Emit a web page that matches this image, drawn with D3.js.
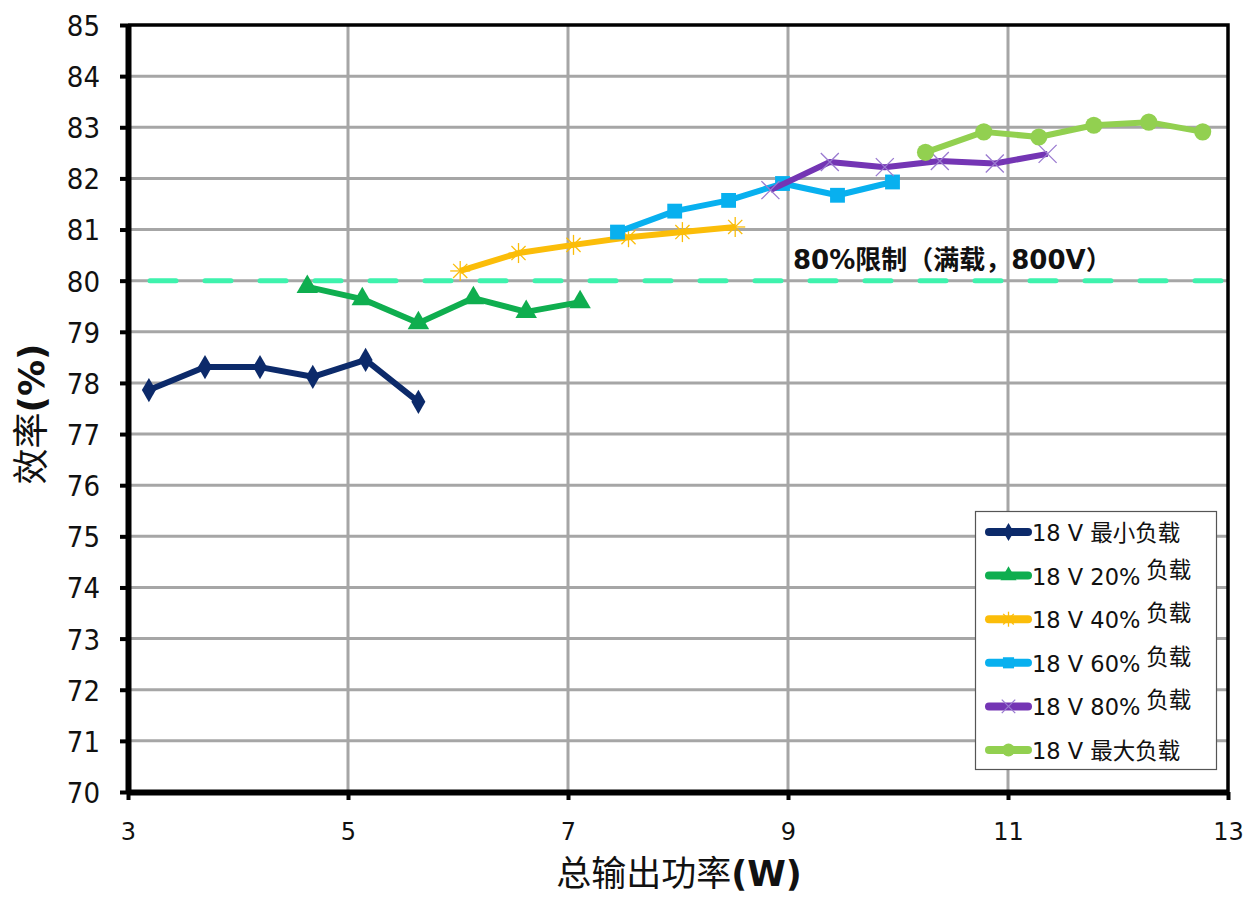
<!DOCTYPE html>
<html><head><meta charset="utf-8">
<script src="https://cdn.jsdelivr.net/npm/d3@7"></script>
<style>
html,body{margin:0;padding:0;background:#fff;}
svg{display:block;font-family:"DejaVu Sans","Noto Sans CJK SC",sans-serif;}
</style></head>
<body><svg id="c" width="1248" height="897"></svg>
<script>
// ---- data ----
const xTicks = [3, 5, 7, 9, 11, 13];
const yTicks = [70, 71, 72, 73, 74, 75, 76, 77, 78, 79, 80, 81, 82, 83, 84, 85];
const seriesNames = ["18 V  最小负载", "18 V 20%", "18 V 40%", "18 V 60%", "18 V 80%", "18 V 最大负载"];
const seriesSuffix = ["", "负载", "负载", "负载", "负载", ""];
const minLoadX = [3.19, 3.70, 4.20, 4.68, 5.16, 5.64];
const minLoadY = [77.86, 78.31, 78.31, 78.12, 78.45, 77.63];
const load20X = [4.63, 5.13, 5.64, 6.14, 6.62, 7.11];
const load20Y = [79.88, 79.64, 79.17, 79.66, 79.39, 79.58];
const load40X = [6.02, 6.55, 7.05, 7.55, 8.04, 8.52];
const load40Y = [80.19, 80.54, 80.70, 80.85, 80.95, 81.05];
const load60X = [7.45, 7.97, 8.46, 8.95, 9.45, 9.95];
const load60Y = [80.95, 81.36, 81.57, 81.90, 81.67, 81.93];
const load80X = [8.84, 9.38, 9.88, 10.38, 10.88, 11.36];
const load80Y = [81.77, 82.32, 82.22, 82.34, 82.29, 82.48];
const maxLoadX = [10.25, 10.78, 11.28, 11.78, 12.28, 12.77];
const maxLoadY = [82.51, 82.91, 82.81, 83.04, 83.10, 82.91];
const limitValue = 80;
const limitLabel = "80%限制（满载，800V）";
const xLabel = "总输出功率";
const xLabelUnit = "(W)";
const yLabel = "效率";
const yLabelUnit = "(%)";

const colors = ["#0c2a6a", "#0fae4f", "#fbbd09", "#08b0ef", "#7435b4", "#92d050"];
const markers = ["diamond", "triangle", "star", "square", "cross", "circle"];
const seriesX = [minLoadX, load20X, load40X, load60X, load80X, maxLoadX];
const seriesY = [minLoadY, load20Y, load40Y, load60Y, load80Y, maxLoadY];

// ---- layout ----
const L = 128, R = 1228, T = 25, B = 792;
const svg = d3.select("#c");
const x = d3.scaleLinear().domain([3, 13]).range([L, R]);
const y = d3.scaleLinear().domain([70, 85]).range([B, T]);

// grid
svg.append("g").selectAll("line").data(yTicks.filter(v => v > 70 && v < 85)).join("line")
  .attr("x1", L).attr("x2", R).attr("y1", d => y(d)).attr("y2", d => y(d))
  .attr("stroke", "#a6a6a6").attr("stroke-width", 3);
svg.append("g").selectAll("line").data(xTicks.filter(v => v > 3 && v < 13)).join("line")
  .attr("y1", T).attr("y2", B).attr("x1", d => x(d)).attr("x2", d => x(d))
  .attr("stroke", "#a6a6a6").attr("stroke-width", 3);

// top/right frame
svg.append("path").attr("d", `M${L},${T}H${R}V${B}`).attr("fill", "none")
  .attr("stroke", "#000").attr("stroke-width", 3.5);

// axes
const yAxis = svg.append("g").attr("transform", `translate(${L},0)`)
  .call(d3.axisLeft(y).tickValues(yTicks).tickSize(8).tickSizeOuter(0).tickPadding(20));
const xAxis = svg.append("g").attr("transform", `translate(0,${B})`)
  .call(d3.axisBottom(x).tickValues(xTicks).tickSize(8).tickSizeOuter(0).tickPadding(23));
[yAxis, xAxis].forEach(g => {
  g.select(".domain").attr("stroke", "#000").attr("stroke-width", 6);
  g.selectAll(".tick line").attr("stroke", "#000").attr("stroke-width", 4);
  g.selectAll(".tick text").attr("fill", "#111");
});
xAxis.selectAll(".tick text").style("font-size", "24px").style("font-family", "'DejaVu Sans',sans-serif");
yAxis.selectAll(".tick text").style("font-size", "29px")
  .style("font-family", "'DejaVu Sans Condensed','DejaVu Sans',sans-serif")
  .style("font-stretch", "condensed").attr("dy", "0.36em");

// limit line
svg.append("line").attr("x1", L + 22).attr("x2", R).attr("y1", y(limitValue)).attr("y2", y(limitValue))
  .attr("stroke", "#3ef2ad").attr("stroke-width", 5).attr("stroke-linecap", "round")
  .attr("stroke-dasharray", "26 29");
svg.append("text").attr("x", 793).attr("y", 269).text(limitLabel)
  .style("font-size", "26px").style("font-weight", "bold").attr("fill", "#111");

// marker drawing
function drawMarker(g, type, color, cx, cy, scale) {
  const s = scale || 1;
  if (type === "star") {
    const r = 10 * s;
    for (let i = 0; i < 4; i++) {
      const a = i * Math.PI / 4;
      g.append("line").attr("x1", cx - r * Math.cos(a)).attr("y1", cy - r * Math.sin(a))
        .attr("x2", cx + r * Math.cos(a)).attr("y2", cy + r * Math.sin(a))
        .attr("stroke", color).attr("stroke-width", 1.3);
    }
  } else if (type === "cross") {
    const r = 9 * s;
    g.append("path").attr("d", `M${cx - r},${cy - r}L${cx + r},${cy + r}M${cx - r},${cy + r}L${cx + r},${cy - r}`)
      .attr("stroke", "#9a7ad0").attr("stroke-width", 1.3).attr("fill", "none");
  } else {
    const sym = { diamond: d3.symbolDiamond, triangle: d3.symbolTriangle, square: d3.symbolSquare, circle: d3.symbolCircle }[type];
    const size = { diamond: 170, triangle: 200, square: 220, circle: 230 }[type] * s * s;
    g.append("path").attr("d", d3.symbol().type(sym).size(size)())
      .attr("transform", `translate(${cx},${cy})`).attr("fill", color);
  }
}

// series
const line = d3.line().x(d => x(d[0])).y(d => y(d[1]));
seriesX.forEach((xs, i) => {
  const pts = xs.map((v, j) => [v, seriesY[i][j]]);
  const g = svg.append("g");
  g.append("path").datum(pts).attr("d", line).attr("fill", "none")
    .attr("stroke", colors[i]).attr("stroke-width", 6).attr("stroke-linejoin", "round");
  pts.forEach(p => drawMarker(g, markers[i], colors[i], x(p[0]), y(p[1]), 1));
});

// legend
const lg = svg.append("g");
lg.append("rect").attr("x", 975.5).attr("y", 511.5).attr("width", 241).attr("height", 258)
  .attr("fill", "#fff").attr("stroke", "#555").attr("stroke-width", 1.2);
seriesNames.forEach((name, i) => {
  const cy = 532 + i * 43.6;
  lg.append("line").attr("x1", 989).attr("x2", 1028).attr("y1", cy).attr("y2", cy)
    .attr("stroke", colors[i]).attr("stroke-width", 8).attr("stroke-linecap", "round");
  drawMarker(lg, markers[i], colors[i], 1008.5, cy, 0.75);
  const t = lg.append("text").attr("x", 1032).attr("y", cy + 9).style("font-size", "22.5px").attr("fill", "#111");
  t.append("tspan").text(name);
  if (seriesSuffix[i]) {
    t.append("tspan").attr("dx", 6).attr("dy", -7).text(seriesSuffix[i]);
  }
});

// axis titles
svg.append("text").attr("x", 679).attr("y", 886).attr("text-anchor", "middle").attr("fill", "#111")
  .style("font-size", "35px")
  .call(t => { t.append("tspan").text(xLabel); t.append("tspan").style("font-weight", "bold").text(xLabelUnit); });
svg.append("text").attr("transform", "translate(44,414) rotate(-90)").attr("text-anchor", "middle").attr("fill", "#111")
  .style("font-size", "36px")
  .call(t => { t.append("tspan").text(yLabel); t.append("tspan").style("font-weight", "bold").text(yLabelUnit); });
</script></body></html>
